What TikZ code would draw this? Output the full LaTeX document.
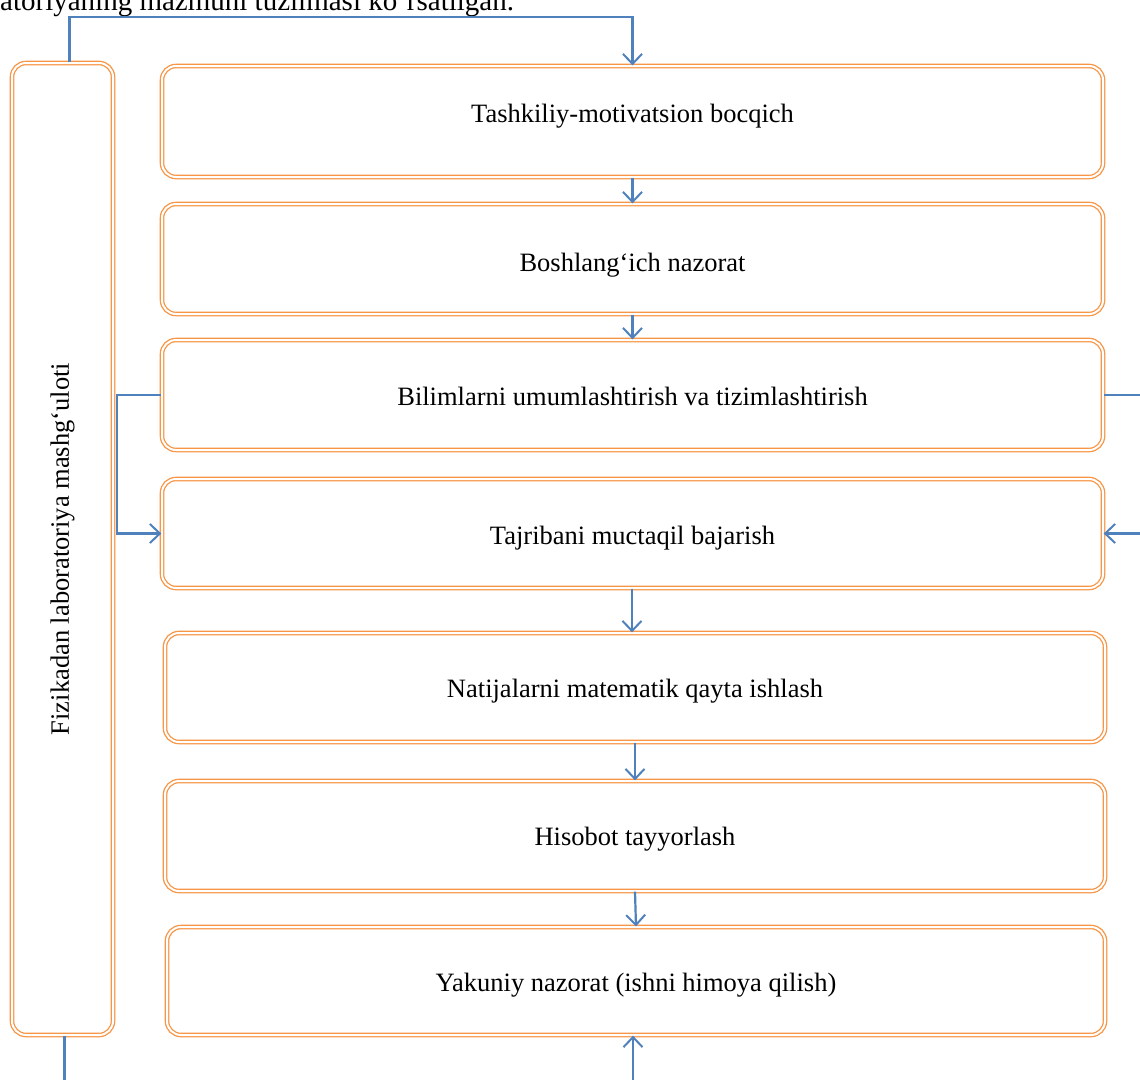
\documentclass[tikz,border=0pt]{standalone}
\usepackage{fontspec}
\setmainfont{Liberation Serif}
\usetikzlibrary{arrows.meta,positioning,calc}
\definecolor{boxorange}{HTML}{F79646}
\definecolor{arrblue}{HTML}{4F81BD}
\newcommand\boxtext[2]{\raisebox{#1}[0pt][0pt]{#2}}
\begin{document}
\begin{tikzpicture}[x=1pt,y=-1pt,
  stagebox/.style={draw=boxorange,line width=1.3pt,double=white,double distance=2pt,
    rounded corners=14pt,minimum width=941pt,minimum height=110pt,inner sep=0pt,
    font=\fontsize{26.5}{30}\selectfont},
  sidebox/.style={draw=boxorange,line width=1.3pt,double=white,double distance=2pt,
    rounded corners=14pt,minimum width=101pt,minimum height=972pt,inner sep=0pt},
  conn/.style={draw=arrblue,line width=2.2pt},
  arr/.style={conn,-{Straight Barb[length=10pt,width=19pt,line width=2pt]}}]
\clip (0,0) rectangle (1140,1079);
\fill[white] (0,0) rectangle (1140,1079);
\node[anchor=base west,font=\fontsize{29}{33}\selectfont,inner sep=0pt] (cap) at (0,10) {atoriyaning mazmuni tuzilmasi ko‘rsatilgan.};
\node[sidebox] (L) at (62.5,549) {};
\node[rotate=90,font=\fontsize{26.5}{30}\selectfont] (Lt) at (L.center) {Fizikadan laboratoriya mashg‘uloti};
\node[stagebox,minimum height=111pt] (b1) at (632.5,121.5) {\boxtext{-1pt}{Tashkiliy-motivatsion bocqich}};
\node[stagebox] (b2) at (632.5,259) {\boxtext{-12pt}{Boshlang‘ich nazorat}};
\node[stagebox] (b3) at (632.5,395) {\boxtext{-10pt}{Bilimlarni umumlashtirish va tizimlashtirish}};
\node[stagebox,minimum height=109pt] (b4) at (632.5,533.5) {\boxtext{-11pt}{Tajribani muctaqil bajarish}};
\node[stagebox,minimum width=940pt,minimum height=109pt] (b5) at (635,687.5) {\boxtext{-10pt}{Natijalarni matematik qayta ishlash}};
\node[stagebox,minimum width=940pt] (b6) at (635,836) {\boxtext{-9pt}{Hisobot tayyorlash}};
\node[stagebox,minimum width=938pt,minimum height=108pt] (b7) at (636,981) {\boxtext{-10pt}{Yakuniy nazorat (ishni himoya qilish)}};
\coordinate (topline) at (0,17);
\coordinate (bottomedge) at (0,1085);
\coordinate (rightedge) at (1145,0);
\draw[arr] ([xshift=7pt]L.north) |- (b1.north |- topline) -- (b1.north);
\draw[arr] (b1.south) -- (b2.north);
\draw[arr] (b2.south) -- (b3.north);
\draw[arr] ([xshift=-0.5pt]b4.south) -- ([xshift=-3pt]b5.north);
\draw[arr] (b5.south) -- (b6.north);
\draw[arr] (b6.south) -- (b7.north);
\draw[arr] (b3.west) -- ++(-44,0) |- (b4.west);
\draw[conn] (b3.east) -- (b3.east -| rightedge);
\draw[arr] (b4.east -| rightedge) -- (b4.east);
\draw[conn] ([xshift=2pt]L.south) -- ([xshift=2pt]L.south |- bottomedge);
\draw[arr] ([xshift=-3pt]b7.south |- bottomedge) -- ([xshift=-3pt]b7.south);
\end{tikzpicture}
\end{document}
